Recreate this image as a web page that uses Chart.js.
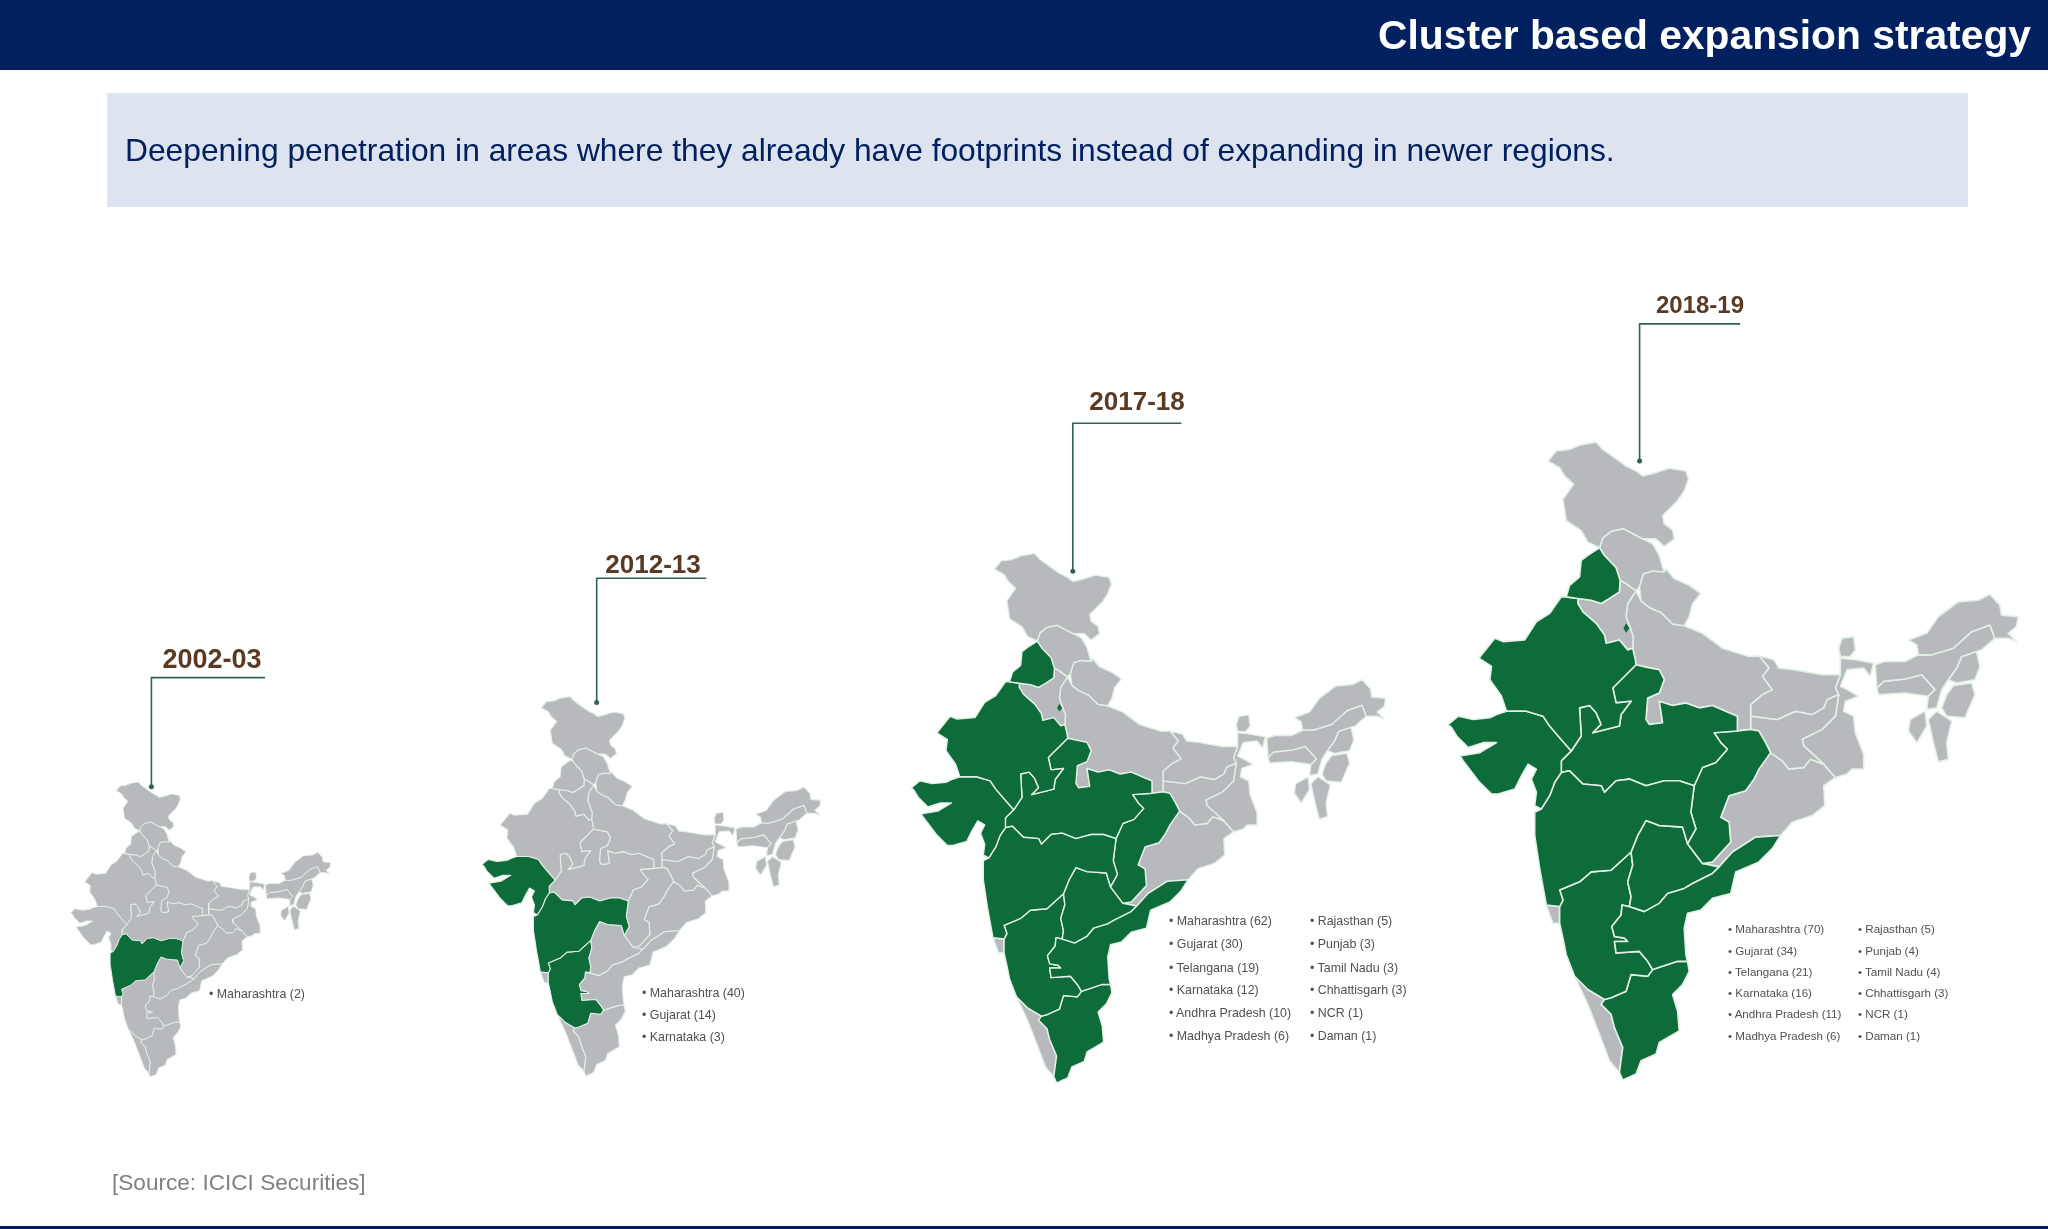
<!DOCTYPE html>
<html><head><meta charset="utf-8">
<script src="https://cdn.jsdelivr.net/npm/chart.js@4/dist/chart.umd.min.js"></script>
<style>
html,body{margin:0;padding:0;background:#fff;width:2048px;height:1229px;overflow:hidden;font-family:"Liberation Sans",Arial,sans-serif}
#c{position:absolute;left:0;top:0}
.t{position:absolute;white-space:nowrap;line-height:1}
#head{position:absolute;left:0;top:0;width:2048px;height:70px;background:#002060}
#band{position:absolute;left:107px;top:93px;width:1861px;height:114px;background:#dde4f0}
#foot{position:absolute;left:0;top:1226px;width:2048px;height:3px;background:#002060}
</style></head><body>
<div id="head"></div><div id="band"></div><div id="foot"></div>
<canvas id="c" width="2048" height="1229"></canvas>
<div class="t" id="title" style="right:17px;top:15px;font-size:40.8px;font-weight:bold;color:#fff">Cluster based expansion strategy</div>
<div class="t" id="sub" style="left:125px;top:135px;font-size:31.75px;color:#002060">Deepening penetration in areas where they already have footprints instead of expanding in newer regions.</div>
<div class="t" id="src" style="left:112px;top:1172px;font-size:22.6px;color:#808080">[Source: ICICI Securities]</div>
<script>
// Categories and values
const years = ["2002-03","2012-13","2017-18","2018-19"];
const states2002 = ["Maharashtra"];
const stores2002 = [2];
const states2012 = ["Maharashtra","Gujarat","Karnataka"];
const stores2012 = [40,14,3];
const states2017 = ["Maharashtra","Gujarat","Telangana","Karnataka","Andhra Pradesh","Madhya Pradesh","Rajasthan","Punjab","Tamil Nadu","Chhattisgarh","NCR","Daman"];
const stores2017 = [62,30,19,12,10,6,5,3,3,3,1,1];
const states2018 = ["Maharashtra","Gujarat","Telangana","Karnataka","Andhra Pradesh","Madhya Pradesh","Rajasthan","Punjab","Tamil Nadu","Chhattisgarh","NCR","Daman"];
const stores2018 = [70,34,21,16,11,6,5,4,4,3,1,1];

// State outlines, in map units
const JammuKashmir=[[305,60],[330,30],[370,25],[400,12],[450,3],[470,25],[505,50],[540,75],[570,90],[590,105],[630,95],[670,82],[720,90],[728,115],[715,150],[695,180],[670,205],[650,225],[655,250],[680,268],[685,295],[655,318],[630,295],[590,295],[565,282],[532,264],[495,272],[470,292],[460,322],[425,305],[405,270],[360,240],[350,175],[382,130],[355,105],[340,80]];
const Himachal=[[470,292],[495,272],[532,264],[565,282],[590,295],[620,310],[640,345],[650,380],[655,395],[620,392],[592,400],[580,440],[570,452],[540,430],[522,420],[510,382],[475,345],[460,322]];
const Punjab=[[460,322],[475,345],[510,382],[522,420],[520,455],[490,475],[465,490],[435,480],[395,475],[360,470],[370,435],[400,410],[405,360],[425,345]];
const Uttarakhand=[[592,400],[620,392],[655,395],[660,385],[685,415],[730,435],[765,460],[740,490],[730,530],[715,557],[680,552],[645,517],[610,502],[585,482],[580,440]];
const Haryana=[[395,475],[435,480],[465,490],[490,475],[520,455],[522,420],[540,430],[570,452],[545,490],[540,530],[562,590],[560,625],[545,630],[520,600],[480,610],[475,585],[450,550],[410,515],[395,490]];
const Delhi=[[532,565],[540,550],[550,565],[540,578]];
const UttarPradesh=[[585,482],[610,502],[645,517],[680,552],[715,557],[770,580],[830,625],[910,650],[940,648],[970,685],[950,710],[980,750],[950,765],[915,795],[915,830],[915,870],[875,875],[875,830],[850,820],[800,798],[760,805],[720,790],[680,798],[640,785],[650,850],[610,855],[600,840],[605,775],[640,760],[655,720],[640,690],[600,682],[570,675],[568,660],[560,625],[562,590],[540,530],[545,490],[570,452]];
const Rajasthan=[[345,470],[360,470],[395,475],[395,490],[410,515],[450,550],[475,585],[480,610],[520,600],[545,630],[560,625],[568,660],[570,675],[500,745],[510,790],[555,785],[525,825],[520,860],[440,880],[465,855],[450,820],[430,798],[400,805],[405,890],[375,935],[340,895],[310,860],[290,830],[240,815],[180,815],[165,770],[130,720],[135,680],[97,655],[145,595],[170,605],[235,600],[270,545],[310,520]];
const Gujarat=[[5,855],[35,830],[80,840],[130,835],[150,825],[180,815],[240,815],[290,830],[310,860],[340,895],[375,935],[345,965],[345,1000],[325,1030],[310,1070],[285,1110],[265,1100],[270,1060],[255,1020],[270,990],[245,975],[225,1010],[205,1050],[155,1065],[135,1065],[95,1025],[50,965],[40,950],[100,940],[150,910],[110,910],[65,925],[30,890],[15,865]];
const MadhyaPradesh=[[375,935],[405,890],[400,805],[430,798],[450,820],[465,855],[440,880],[520,860],[525,825],[555,785],[510,790],[500,745],[570,675],[600,682],[640,690],[655,720],[640,760],[605,775],[600,840],[610,855],[650,850],[640,785],[680,798],[720,790],[760,805],[800,798],[850,820],[875,830],[875,875],[805,880],[825,910],[845,930],[810,970],[770,985],[745,1040],[700,1025],[655,1025],[600,1040],[550,1020],[510,1025],[475,1060],[465,1040],[410,1035],[370,995],[345,1000],[345,965]];
const Chhattisgarh=[[805,880],[875,875],[915,870],[940,875],[960,910],[975,940],[940,990],[925,1020],[900,1055],[850,1070],[825,1135],[850,1150],[855,1210],[800,1270],[770,1275],[725,1215],[750,1170],[735,1120],[745,1040],[770,985],[810,970],[845,930],[825,910]];
const Maharashtra=[[265,1120],[285,1110],[310,1070],[325,1030],[345,1000],[370,995],[410,1035],[465,1040],[475,1060],[510,1025],[550,1020],[600,1040],[655,1025],[700,1025],[745,1040],[735,1120],[750,1170],[725,1215],[710,1165],[640,1160],[600,1145],[575,1190],[555,1240],[495,1295],[435,1300],[400,1330],[340,1355],[350,1385],[340,1405],[300,1400],[280,1290],[265,1190]];
const Telangana=[[600,1145],[640,1160],[710,1165],[725,1215],[770,1275],[820,1285],[800,1305],[740,1335],[715,1350],[665,1365],[640,1395],[595,1420],[550,1405],[555,1375],[545,1330],[560,1280],[555,1240],[575,1190]];
const AndhraPradesh=[[1005,1190],[980,1230],[940,1270],[870,1300],[855,1365],[800,1380],[765,1415],[725,1425],[715,1470],[720,1550],[725,1570],[695,1570],[620,1595],[605,1570],[580,1540],[510,1545],[505,1510],[545,1510],[535,1500],[505,1495],[497,1465],[525,1430],[528,1400],[550,1405],[595,1420],[640,1395],[665,1365],[715,1350],[740,1335],[800,1305],[820,1285],[860,1240],[930,1195]];
const Karnataka=[[340,1355],[400,1330],[435,1300],[495,1295],[555,1240],[560,1280],[545,1330],[555,1375],[550,1405],[528,1400],[525,1430],[497,1465],[505,1495],[535,1500],[545,1510],[505,1510],[510,1545],[580,1540],[605,1570],[620,1595],[605,1615],[555,1610],[540,1660],[495,1680],[475,1685],[425,1655],[385,1615],[360,1550],[350,1500],[340,1455],[340,1405],[350,1385]];
const Goa=[[300,1400],[340,1405],[340,1455],[320,1455]];
const Kerala=[[385,1615],[425,1655],[475,1685],[465,1700],[495,1730],[505,1770],[530,1830],[520,1905],[490,1870],[460,1790],[425,1700]];
const TamilNadu=[[475,1685],[495,1680],[540,1660],[555,1610],[605,1615],[620,1595],[695,1570],[725,1570],[730,1600],[710,1640],[680,1670],[695,1720],[700,1780],[640,1815],[630,1850],[585,1870],[570,1910],[530,1928],[520,1905],[530,1830],[505,1770],[495,1730],[465,1700]];
const Bihar=[[940,648],[985,660],[1000,685],[1045,690],[1130,705],[1185,705],[1170,745],[1180,765],[1145,780],[1135,805],[1100,825],[1050,815],[995,840],[915,830],[915,795],[950,765],[980,750],[950,710],[970,685]];
const Jharkhand=[[915,830],[995,840],[1050,815],[1100,825],[1135,805],[1145,780],[1180,765],[1170,830],[1130,870],[1070,900],[1075,920],[1135,975],[1095,960],[1075,985],[1030,990],[1010,965],[975,940],[960,910],[940,875],[915,870]];
const Sikkim=[[1180,625],[1190,595],[1225,590],[1230,630],[1215,650],[1185,650]];
const WestBengal=[[1185,655],[1230,660],[1285,670],[1275,710],[1255,685],[1205,690],[1195,715],[1185,740],[1205,750],[1240,770],[1200,785],[1195,815],[1225,830],[1230,880],[1255,945],[1255,990],[1220,990],[1205,1005],[1170,1015],[1135,975],[1075,920],[1070,900],[1130,870],[1170,830],[1180,765],[1170,745],[1185,705]];
const Odisha=[[925,1020],[940,990],[975,940],[1010,965],[1030,990],[1075,985],[1095,960],[1135,975],[1170,1015],[1135,1040],[1138,1100],[1100,1130],[1040,1150],[1005,1190],[930,1195],[860,1240],[820,1285],[770,1275],[800,1270],[855,1210],[850,1150],[825,1135],[850,1070],[900,1055]];
const Arunachal=[[1390,600],[1445,580],[1480,530],[1540,485],[1600,480],[1635,462],[1665,495],[1670,525],[1720,530],[1715,560],[1690,580],[1715,605],[1690,595],[1650,595],[1635,555],[1580,575],[1525,625],[1460,645],[1420,645],[1415,615]];
const Assam=[[1290,675],[1320,665],[1380,665],[1420,645],[1460,645],[1525,625],[1580,575],[1635,555],[1650,595],[1610,630],[1550,650],[1535,685],[1510,720],[1490,750],[1475,805],[1445,810],[1450,770],[1470,750],[1430,705],[1380,718],[1315,725],[1295,745]];
const Meghalaya=[[1295,745],[1315,725],[1380,718],[1430,705],[1470,750],[1450,770],[1380,760],[1300,765]];
const Nagaland=[[1550,650],[1595,635],[1605,680],[1590,720],[1535,730],[1510,720],[1535,685]];
const Manipur=[[1525,738],[1580,730],[1590,765],[1560,835],[1505,830],[1490,805],[1505,765]];
const Tripura=[[1440,815],[1445,860],[1415,910],[1390,875],[1395,840]];
const Mizoram=[[1475,815],[1520,845],[1505,910],[1510,960],[1480,968],[1465,910],[1450,840]];

const outlines={"Jammu & Kashmir":JammuKashmir,"Himachal":Himachal,"Punjab":Punjab,"Uttarakhand":Uttarakhand,"Haryana":Haryana,"Uttar Pradesh":UttarPradesh,"Rajasthan":Rajasthan,"Gujarat":Gujarat,"Maharashtra":Maharashtra,"Goa":Goa,"Madhya Pradesh":MadhyaPradesh,"Chhattisgarh":Chhattisgarh,"Bihar":Bihar,"Jharkhand":Jharkhand,"West Bengal":WestBengal,"Sikkim":Sikkim,"Odisha":Odisha,"Arunachal":Arunachal,"Assam":Assam,"Meghalaya":Meghalaya,"Nagaland":Nagaland,"Manipur":Manipur,"Tripura":Tripura,"Mizoram":Mizoram,"Andhra Pradesh":AndhraPradesh,"Telangana":Telangana,"Karnataka":Karnataka,"Kerala":Kerala,"Tamil Nadu":TamilNadu,"NCR":Delhi};

// Layout of the four panels
const panels=[
 {label:years[0],names:states2002,vals:stores2002,box:[67,783,261,297],bw:0.9,lead:[148,678,262,788],lx:212,ly:659,fs:27,
  cols:[{x:209,ys:[994]}],lf:12.4},
 {label:years[1],names:states2012,vals:stores2012,box:[480,697,340,382],bw:1.1,lead:[595,578,705,703],lx:653,ly:564,fs:26,
  cols:[{x:642,ys:[993,1015,1037]}],lf:12.4},
 {label:years[2],names:states2017,vals:stores2017,box:[911,553,476,533],bw:1.4,lead:[1073,422,1182,571],lx:1137,ly:401,fs:26,
  cols:[{x:1169,ys:[921,944,968,990,1013,1036]},{x:1310,ys:[921,944,968,990,1013,1036]}],lf:12.4},
 {label:years[3],names:states2018,vals:stores2018,box:[1450,441,572,642],bw:1.6,lead:[1642,322,1743,460],lx:1700,ly:305,fs:24,
  cols:[{x:1728,ys:[929,951,972,993,1014,1036]},{x:1858,ys:[929,951,972,993,1014,1036]}],lf:11.6}
];
const U={x0:5,y0:3,w:1715,h:1925};
const GREEN="#0e6b3a",GRAY="#b8b9bc",EDGE="#e2f0e6",LEAD="#2f6355";

const datasets=[];
panels.forEach(p=>{
  const [l,t,w,h]=p.box;
  const proj=([x,y])=>({x:l+(x-U.x0)*w/U.w,y:t+(y-U.y0)*h/U.h});
  const [lx,ty,rx,by]=p.lead;
  datasets.push({data:[{x:rx,y:ty},{x:lx,y:ty},{x:lx,y:by}],showLine:true,borderColor:LEAD,borderWidth:1.6,
    pointRadius:[0,0,2.5],pointBackgroundColor:LEAD,pointBorderWidth:0,tension:0,fill:false,order:0});
  Object.keys(outlines).forEach(name=>{
    const on=p.names.includes(name);
    if(name==="NCR"&&!on)return;
    const pts=outlines[name].map(proj);pts.push(pts[0]);
    datasets.push({data:pts,showLine:true,pointRadius:0,tension:0,fill:'shape',
      backgroundColor:on?GREEN:GRAY,borderColor:name==="NCR"?GREEN:EDGE,borderWidth:name==="NCR"?0:p.bw,borderJoinStyle:'round',
      order:name==="NCR"?1:(on?2:3)});
  });
  const add=(txt,x,y,fs,col,bold,center)=>{
    const d=document.createElement('div');d.className='t';d.textContent=txt;
    d.style.cssText=`left:${x}px;top:${y-fs/2}px;font-size:${fs}px;color:${col};${bold?'font-weight:bold;':''}${center?'transform:translateX(-50%);':''}`;
    document.body.appendChild(d);
  };
  add(p.label,p.lx,p.ly,p.fs,'#5a3a22',true,true);
  let i=0;
  p.cols.forEach(c=>c.ys.forEach(y=>{add('• '+p.names[i]+' ('+p.vals[i]+')',c.x,y,p.lf,'#505050');i++;}));
});

new Chart(document.getElementById('c'),{type:'scatter',data:{datasets},options:{
  responsive:false,devicePixelRatio:1,animation:false,events:[],
  layout:{padding:0},
  plugins:{legend:{display:false},tooltip:{enabled:false},title:{display:false}},
  scales:{x:{type:'linear',min:0,max:2048,display:false},y:{type:'linear',min:0,max:1229,reverse:true,display:false}}
}});
</script>
</body></html>
